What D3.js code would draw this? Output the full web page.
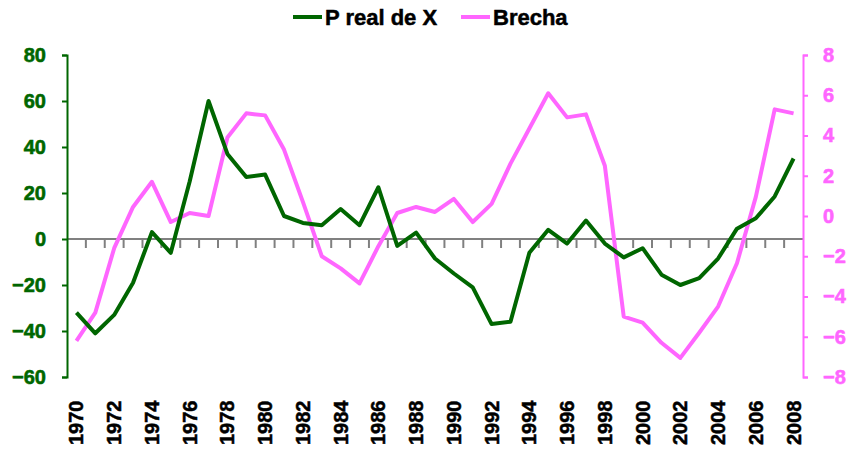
<!DOCTYPE html>
<html lang="en">
<head>
    <meta charset="UTF-8">
    <title>P real de X y Brecha</title>
    <style>
      body, html {
        margin: 0;
        padding: 0;
        background: #fff;
      }
      text {
        font-family: Arial, "Liberation Sans", sans-serif;
        font-weight: bold;
      }
    </style>
</head>
<body>
  <svg id="svg" width="850" height="458"></svg>

  <script src="https://d3js.org/d3.v7.min.js"></script>
  <script>
    // data
    const years = d3.range(1970, 2009)
    const pReal = [-32, -41, -33, -19, 3, -6, 25, 60, 37, 27, 28, 10, 7, 6, 13, 6, 22.5, -3, 2.8, -8.5,
                   -15, -21, -37, -36, -6, 4, -2, 8, -2, -8, -4, -15.5, -20, -17, -8.5, 4.5, 9, 18.5, 35]
    const brecha = [-6.2, -4.8, -1.6, 0.45, 1.7, -0.3, 0.15, 0, 3.9, 5.1, 5.0, 3.3, 0.7, -2.0, -2.6, -3.35, -1.5, 0.15, 0.45, 0.2,
                    0.85, -0.3, 0.6, 2.6, 4.35, 6.1, 4.9, 5.05, 2.5, -5.0, -5.3, -6.3, -7.05, -5.8, -4.5, -2.35, 0.95, 5.3, 5.1]
    const leftTicks = [-60, -40, -20, 0, 20, 40, 60, 80]
    const rightTicks = [-8, -6, -4, -2, 0, 2, 4, 6, 8]
    const labelYears = years.filter(y => y % 2 === 0)

    const green = '#006600'
    const pink = '#ff66ff'
    const grey = '#808080'

    const svg = d3.select('#svg')

    // plot area ("top" is taken by window.top, so use other names)
    const plotL = 67, plotR = 803, plotT = 55, plotB = 377

    const x = d3.scaleBand()
      .domain(years)
      .range([plotL, plotR])
      .padding(0)
    const yL = d3.scaleLinear().domain([-60, 80]).range([plotB, plotT])
    const yR = d3.scaleLinear().domain([-8, 8]).range([plotB, plotT])
    const cx = d => x(d) + x.bandwidth() / 2

    // zero line with category ticks hanging below
    svg.append('line')
      .attr('x1', plotL).attr('x2', plotR)
      .attr('y1', yL(0)).attr('y2', yL(0))
      .attr('stroke', grey).attr('stroke-width', 2)

    svg.append('g')
      .selectAll('line')
      .data(years.slice(1))
      .join('line')
      .attr('x1', d => x(d)).attr('x2', d => x(d))
      .attr('y1', yL(0)).attr('y2', yL(0) + 9)
      .attr('stroke', grey).attr('stroke-width', 2)

    // left axis (green)
    const axL = svg.append('g')
      .attr('transform', `translate(${plotL},0)`)
      .call(d3.axisLeft(yL).tickValues(leftTicks).tickSize(5).tickPadding(16))
    axL.select('.domain').attr('stroke', green).attr('stroke-width', 2)
    axL.selectAll('.tick line').attr('stroke', green).attr('stroke-width', 2)
    axL.selectAll('.tick text')
      .attr('fill', green)
      .attr('stroke', green)
      .attr('stroke-width', 0.6)
      .style('font-size', '20px')
      .style('font-weight', 'bold')

    // right axis (pink)
    const axR = svg.append('g')
      .attr('transform', `translate(${plotR},0)`)
      .call(d3.axisRight(yR).tickValues(rightTicks).tickSize(5).tickPadding(15))
    axR.select('.domain').attr('stroke', pink).attr('stroke-width', 2)
    axR.selectAll('.tick line').attr('stroke', pink).attr('stroke-width', 2)
    axR.selectAll('.tick text')
      .attr('fill', pink)
      .attr('stroke', pink)
      .attr('stroke-width', 0.6)
      .style('font-size', '20px')
      .style('font-weight', 'bold')

    // year labels, rotated
    svg.append('g')
      .selectAll('text')
      .data(labelYears)
      .join('text')
      .text(d => d)
      .attr('transform', d => `translate(${cx(d) + 7}, 445) rotate(-90)`)
      .attr('text-anchor', 'start')
      .attr('fill', 'black')
      .attr('stroke', 'black')
      .attr('stroke-width', 0.5)
      .style('font-size', '20px')

    // the two lines
    const lineL = d3.line().x((d, i) => cx(years[i])).y(d => yL(d))
    const lineR = d3.line().x((d, i) => cx(years[i])).y(d => yR(d))

    svg.append('path')
      .datum(brecha)
      .attr('d', lineR)
      .attr('fill', 'none')
      .attr('stroke', pink)
      .attr('stroke-width', 4)
      .attr('stroke-linejoin', 'round')

    svg.append('path')
      .datum(pReal)
      .attr('d', lineL)
      .attr('fill', 'none')
      .attr('stroke', green)
      .attr('stroke-width', 4)
      .attr('stroke-linejoin', 'round')

    // legend
    const legend = [
      { label: 'P real de X', color: green, x: 293 },
      { label: 'Brecha', color: pink, x: 461 }
    ]
    const lg = svg.append('g')
      .selectAll('g')
      .data(legend)
      .join('g')
      .attr('transform', d => `translate(${d.x}, 17)`)
    lg.append('line')
      .attr('x1', 0).attr('x2', 29)
      .attr('stroke', d => d.color)
      .attr('stroke-width', 4)
    lg.append('text')
      .text(d => d.label)
      .attr('x', 32)
      .attr('y', 8)
      .attr('fill', 'black')
      .attr('stroke', 'black')
      .attr('stroke-width', 0.5)
      .style('font-size', '22px')
  </script>
</body>
</html>
